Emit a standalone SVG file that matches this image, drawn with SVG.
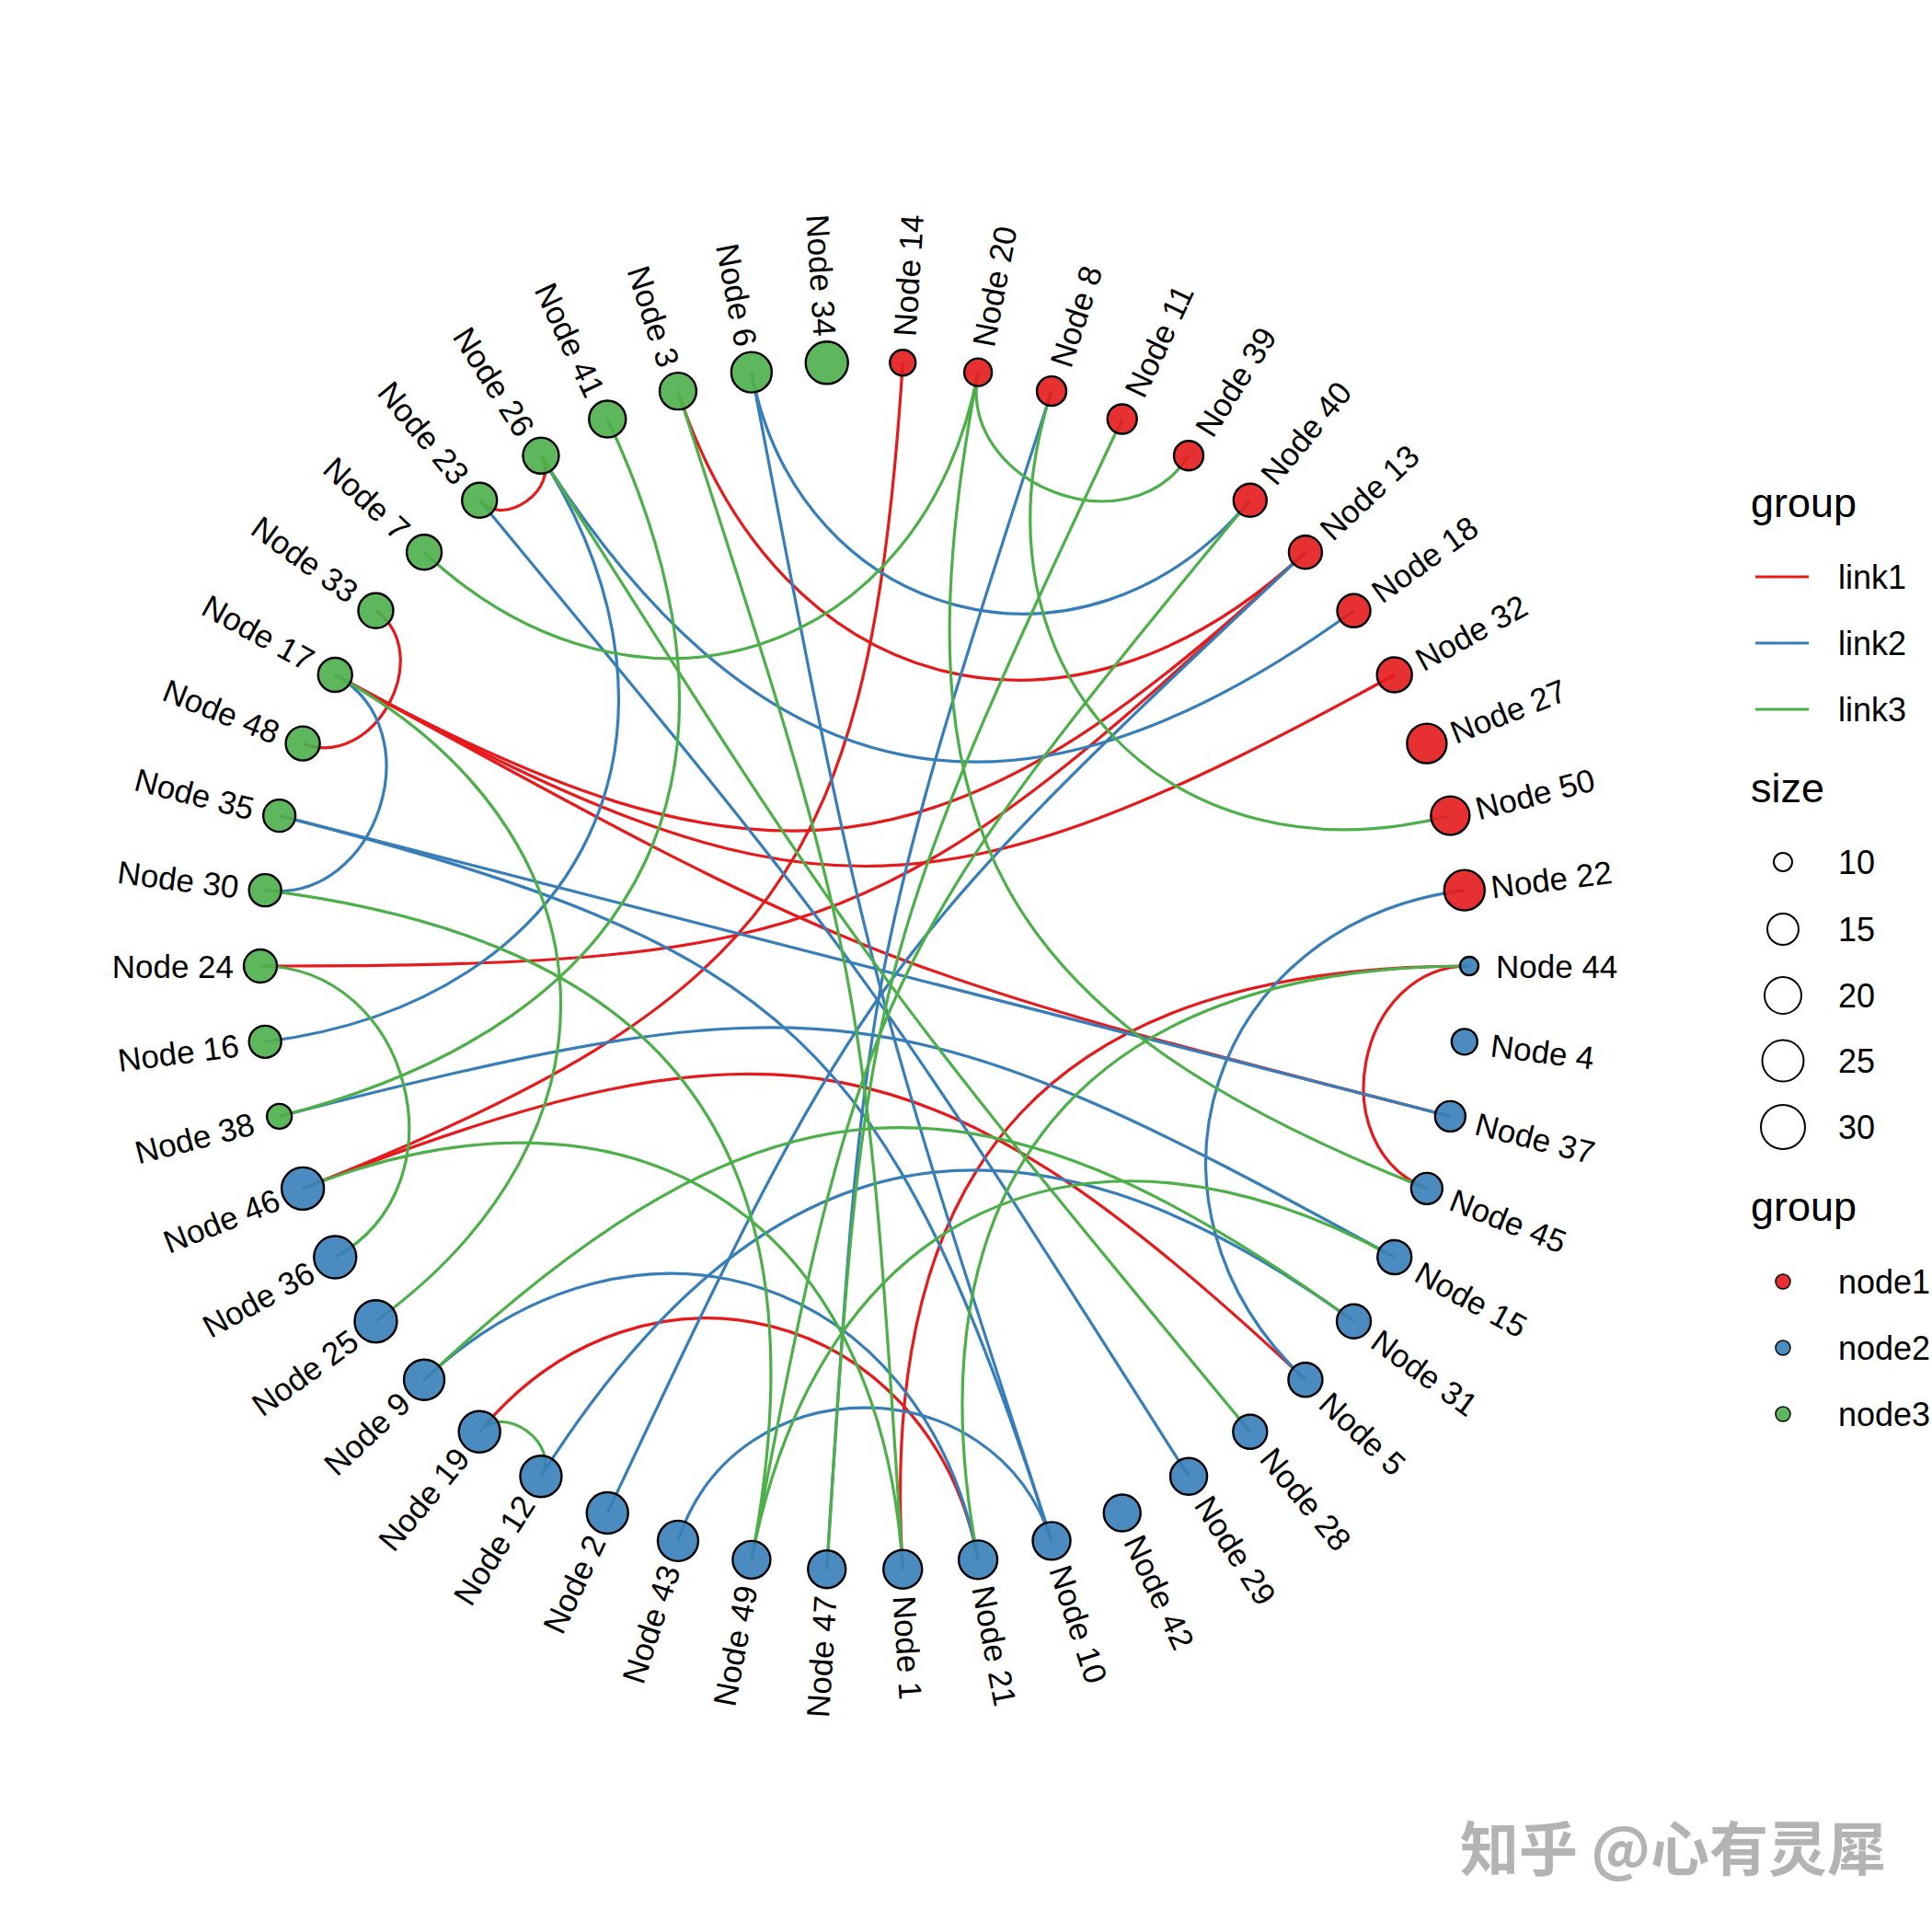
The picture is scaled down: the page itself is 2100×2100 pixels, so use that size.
<svg xmlns="http://www.w3.org/2000/svg" width="2100" height="2100" viewBox="0 0 2100 2100">
<style>
.edge{fill:none;stroke-width:3.2}
.l1{stroke:#E41A1C}.l2{stroke:#377EB8}.l3{stroke:#4DAF4A}
.node circle{stroke:#000;stroke-width:2.4;fill-opacity:0.9}
.g1 circle{fill:#E41A1C}.g2 circle{fill:#377EB8}.g3 circle{fill:#4DAF4A}
.node text{font-family:"Liberation Sans",Arial,sans-serif;font-size:35px;fill:#000;dominant-baseline:central}
.s{text-anchor:start}.e{text-anchor:end}
.lg{font-family:"Liberation Sans",Arial,sans-serif;fill:#000}
.lt{font-size:45px}.ll{font-size:36px;dominant-baseline:central}
</style>
<rect width="2100" height="2100" fill="#fff"/>
<g id="edges">
<path class="edge l1" d="M981.25,394.29 C946.42,947.92 844.91,1087.65 329.13,1291.86"/>
<path class="edge l1" d="M329.13,1291.86 C844.91,1087.65 1014.55,1120.01 1418.93,1499.75"/>
<path class="edge l1" d="M521.21,543.78 C547.51,575.57 610.06,530.11 587.96,495.28"/>
<path class="edge l1" d="M408.47,663.82 C475.09,712.22 405.69,838.45 329.13,808.14"/>
<path class="edge l1" d="M1597,1050 C1473.89,1050 1436.41,1246.54 1550.87,1291.86"/>
<path class="edge l1" d="M1597,1050 C1147.25,1050 953.01,1256.84 981.25,1705.71"/>
<path class="edge l1" d="M521.21,1556.22 C699.52,1340.68 1010.69,1420.58 1063.11,1695.36"/>
<path class="edge l1" d="M736.97,425.15 C845.76,759.96 1162.3,841.24 1418.93,600.25"/>
<path class="edge l1" d="M364.26,733.49 C830.05,989.55 1031.47,964.11 1418.93,600.25"/>
<path class="edge l1" d="M364.26,733.49 C868.79,1010.85 1011.21,1010.85 1515.74,733.49"/>
<path class="edge l1" d="M364.26,733.49 C935.46,1047.5 945.02,1051.29 1576.36,1213.39"/>
<path class="edge l1" d="M283,1050 C893.87,1050 973.63,1018.42 1418.93,600.25"/>
<path class="edge l2" d="M816.89,404.64 C869.31,679.42 1180.48,759.32 1358.79,543.78"/>
<path class="edge l2" d="M816.89,404.64 C939.76,1048.73 940.4,1051.23 1143.03,1674.85"/>
<path class="edge l2" d="M587.96,495.28 C776.59,792.52 637.45,1088.22 288.18,1132.34"/>
<path class="edge l2" d="M587.96,495.28 C828.95,875.01 1107.67,928.18 1471.53,663.82"/>
<path class="edge l2" d="M364.26,733.49 C472.14,792.8 410.32,983.09 288.18,967.66"/>
<path class="edge l2" d="M303.64,886.61 C940,1050 940,1050 1576.36,1213.39"/>
<path class="edge l2" d="M303.64,886.61 C861.29,1029.79 965.11,1127.29 1143.03,1674.85"/>
<path class="edge l2" d="M303.64,1213.39 C895.31,1061.47 980.43,1072.23 1515.74,1366.51"/>
<path class="edge l2" d="M1591.82,967.66 C1314.29,1002.72 1215.01,1308.26 1418.93,1499.75"/>
<path class="edge l2" d="M736.97,1674.85 C799.71,1481.76 1080.29,1481.76 1143.03,1674.85"/>
<path class="edge l2" d="M461.07,1499.75 C691.79,1283.08 1003.8,1384.46 1063.11,1695.36"/>
<path class="edge l2" d="M521.21,543.78 C939.17,1049 940.69,1051.09 1292.04,1604.72"/>
<path class="edge l2" d="M660.26,1644.47 C935.05,1060.53 948.48,1042.03 1418.93,600.25"/>
<path class="edge l2" d="M587.96,1604.72 C828.95,1224.99 1107.67,1171.82 1471.53,1436.18"/>
<path class="edge l2" d="M1143.03,425.15 C941.6,1045.07 939.67,1055.17 898.75,1705.71"/>
<path class="edge l3" d="M1063.11,404.64 C1003.8,715.54 691.79,816.92 461.07,600.25"/>
<path class="edge l3" d="M1063.11,404.64 C1040.04,525.57 1226.08,599.22 1292.04,495.28"/>
<path class="edge l3" d="M1063.11,404.64 C968.25,901.9 1080.19,1105.5 1550.87,1291.86"/>
<path class="edge l3" d="M1143.03,425.15 C1045.22,726.17 1269.79,965.32 1576.36,886.61"/>
<path class="edge l3" d="M283,1050 C446.39,1050 507.44,1287.8 364.26,1366.51"/>
<path class="edge l3" d="M303.64,1213.39 C709.27,1109.24 838.57,834.46 660.26,455.53"/>
<path class="edge l3" d="M364.26,733.49 C672.76,903.09 693.28,1229.25 408.47,1436.18"/>
<path class="edge l3" d="M587.96,1604.72 C610.06,1569.89 547.51,1524.43 521.21,1556.22"/>
<path class="edge l3" d="M1063.11,1695.36 C984.64,1284 1178.21,1050 1597,1050"/>
<path class="edge l3" d="M736.97,425.15 C938.4,1045.07 940.33,1055.17 981.25,1705.71"/>
<path class="edge l3" d="M329.13,1291.86 C688.19,1149.7 957,1320.29 981.25,1705.71"/>
<path class="edge l3" d="M1219.74,455.53 C944.95,1039.47 939.27,1061.61 898.75,1705.71"/>
<path class="edge l3" d="M1358.79,543.78 C953.16,1034.09 936.13,1070.28 816.89,1695.36"/>
<path class="edge l3" d="M587.96,495.28 C939.31,1048.91 940.83,1051 1358.79,1556.22"/>
<path class="edge l3" d="M816.89,1695.36 C889.25,1316.02 1177.33,1180.47 1515.74,1366.51"/>
<path class="edge l3" d="M288.18,967.66 C734.38,1024.03 901.17,1253.58 816.89,1695.36"/>
<path class="edge l3" d="M461.07,1499.75 C830.09,1153.21 1061.98,1138.62 1471.53,1436.18"/>
</g>
<g id="nodes">
<g id="node14" class="node g1"><circle cx="981.25" cy="394.29" r="14"/><text class="s" transform="translate(983.07,365.35) rotate(-86.4)">Node 14</text></g>
<g id="node20" class="node g1"><circle cx="1063.11" cy="404.64" r="15"/><text class="s" transform="translate(1068.54,376.15) rotate(-79.2)">Node 20</text></g>
<g id="node8" class="node g1"><circle cx="1143.03" cy="425.15" r="16"/><text class="s" transform="translate(1151.99,397.57) rotate(-72)">Node 8</text></g>
<g id="node11" class="node g1"><circle cx="1219.74" cy="455.53" r="16"/><text class="s" transform="translate(1232.09,429.29) rotate(-64.8)">Node 11</text></g>
<g id="node39" class="node g1"><circle cx="1292.04" cy="495.28" r="16"/><text class="s" transform="translate(1307.58,470.79) rotate(-57.6)">Node 39</text></g>
<g id="node40" class="node g1"><circle cx="1358.79" cy="543.78" r="18"/><text class="s" transform="translate(1377.28,521.44) rotate(-50.4)">Node 40</text></g>
<g id="node13" class="node g1"><circle cx="1418.93" cy="600.25" r="18"/><text class="s" transform="translate(1440.07,580.4) rotate(-43.2)">Node 13</text></g>
<g id="node18" class="node g1"><circle cx="1471.53" cy="663.82" r="18"/><text class="s" transform="translate(1495,646.77) rotate(-36)">Node 18</text></g>
<g id="node32" class="node g1"><circle cx="1515.74" cy="733.49" r="19"/><text class="s" transform="translate(1541.15,719.52) rotate(-28.8)">Node 32</text></g>
<g id="node27" class="node g1"><circle cx="1550.87" cy="808.14" r="21.5"/><text class="s" transform="translate(1577.83,797.46) rotate(-21.6)">Node 27</text></g>
<g id="node50" class="node g1"><circle cx="1576.36" cy="886.61" r="21"/><text class="s" transform="translate(1604.45,879.4) rotate(-14.4)">Node 50</text></g>
<g id="node22" class="node g1"><circle cx="1591.82" cy="967.66" r="22"/><text class="s" transform="translate(1620.59,964.03) rotate(-7.2)">Node 22</text></g>
<g id="node44" class="node g2"><circle cx="1597" cy="1050" r="10"/><text class="s" transform="translate(1626,1050) rotate(0)">Node 44</text></g>
<g id="node4" class="node g2"><circle cx="1591.82" cy="1132.34" r="14"/><text class="s" transform="translate(1620.59,1135.97) rotate(7.2)">Node 4</text></g>
<g id="node37" class="node g2"><circle cx="1576.36" cy="1213.39" r="16.5"/><text class="s" transform="translate(1604.45,1220.6) rotate(14.4)">Node 37</text></g>
<g id="node45" class="node g2"><circle cx="1550.87" cy="1291.86" r="17"/><text class="s" transform="translate(1577.83,1302.54) rotate(21.6)">Node 45</text></g>
<g id="node15" class="node g2"><circle cx="1515.74" cy="1366.51" r="18.5"/><text class="s" transform="translate(1541.15,1380.48) rotate(28.8)">Node 15</text></g>
<g id="node31" class="node g2"><circle cx="1471.53" cy="1436.18" r="18.5"/><text class="s" transform="translate(1495,1453.23) rotate(36)">Node 31</text></g>
<g id="node5" class="node g2"><circle cx="1418.93" cy="1499.75" r="18.5"/><text class="s" transform="translate(1440.07,1519.6) rotate(43.2)">Node 5</text></g>
<g id="node28" class="node g2"><circle cx="1358.79" cy="1556.22" r="18.5"/><text class="s" transform="translate(1377.28,1578.56) rotate(50.4)">Node 28</text></g>
<g id="node29" class="node g2"><circle cx="1292.04" cy="1604.72" r="20"/><text class="s" transform="translate(1307.58,1629.21) rotate(57.6)">Node 29</text></g>
<g id="node42" class="node g2"><circle cx="1219.74" cy="1644.47" r="20"/><text class="s" transform="translate(1232.09,1670.71) rotate(64.8)">Node 42</text></g>
<g id="node10" class="node g2"><circle cx="1143.03" cy="1674.85" r="20.5"/><text class="s" transform="translate(1151.99,1702.43) rotate(72)">Node 10</text></g>
<g id="node21" class="node g2"><circle cx="1063.11" cy="1695.36" r="21"/><text class="s" transform="translate(1068.54,1723.85) rotate(79.2)">Node 21</text></g>
<g id="node1" class="node g2"><circle cx="981.25" cy="1705.71" r="21"/><text class="s" transform="translate(983.07,1734.65) rotate(86.4)">Node 1</text></g>
<g id="node47" class="node g2"><circle cx="898.75" cy="1705.71" r="20.5"/><text class="e" transform="translate(896.93,1734.65) rotate(-86.4)">Node 47</text></g>
<g id="node49" class="node g2"><circle cx="816.89" cy="1695.36" r="20.5"/><text class="e" transform="translate(811.46,1723.85) rotate(-79.2)">Node 49</text></g>
<g id="node43" class="node g2"><circle cx="736.97" cy="1674.85" r="22"/><text class="e" transform="translate(728.01,1702.43) rotate(-72)">Node 43</text></g>
<g id="node2" class="node g2"><circle cx="660.26" cy="1644.47" r="22.5"/><text class="e" transform="translate(647.91,1670.71) rotate(-64.8)">Node 2</text></g>
<g id="node12" class="node g2"><circle cx="587.96" cy="1604.72" r="22.5"/><text class="e" transform="translate(572.42,1629.21) rotate(-57.6)">Node 12</text></g>
<g id="node19" class="node g2"><circle cx="521.21" cy="1556.22" r="22.5"/><text class="e" transform="translate(502.72,1578.56) rotate(-50.4)">Node 19</text></g>
<g id="node9" class="node g2"><circle cx="461.07" cy="1499.75" r="22"/><text class="e" transform="translate(439.93,1519.6) rotate(-43.2)">Node 9</text></g>
<g id="node25" class="node g2"><circle cx="408.47" cy="1436.18" r="23"/><text class="e" transform="translate(385,1453.23) rotate(-36)">Node 25</text></g>
<g id="node36" class="node g2"><circle cx="364.26" cy="1366.51" r="23"/><text class="e" transform="translate(338.85,1380.48) rotate(-28.8)">Node 36</text></g>
<g id="node46" class="node g2"><circle cx="329.13" cy="1291.86" r="23"/><text class="e" transform="translate(302.17,1302.54) rotate(-21.6)">Node 46</text></g>
<g id="node38" class="node g3"><circle cx="303.64" cy="1213.39" r="13.5"/><text class="e" transform="translate(275.55,1220.6) rotate(-14.4)">Node 38</text></g>
<g id="node16" class="node g3"><circle cx="288.18" cy="1132.34" r="17.5"/><text class="e" transform="translate(259.41,1135.97) rotate(-7.2)">Node 16</text></g>
<g id="node24" class="node g3"><circle cx="283" cy="1050" r="18"/><text class="e" transform="translate(254,1050) rotate(0)">Node 24</text></g>
<g id="node30" class="node g3"><circle cx="288.18" cy="967.66" r="17.5"/><text class="e" transform="translate(259.41,964.03) rotate(7.2)">Node 30</text></g>
<g id="node35" class="node g3"><circle cx="303.64" cy="886.61" r="17.5"/><text class="e" transform="translate(275.55,879.4) rotate(14.4)">Node 35</text></g>
<g id="node48" class="node g3"><circle cx="329.13" cy="808.14" r="18.5"/><text class="e" transform="translate(302.17,797.46) rotate(21.6)">Node 48</text></g>
<g id="node17" class="node g3"><circle cx="364.26" cy="733.49" r="18.5"/><text class="e" transform="translate(338.85,719.52) rotate(28.8)">Node 17</text></g>
<g id="node33" class="node g3"><circle cx="408.47" cy="663.82" r="19"/><text class="e" transform="translate(385,646.77) rotate(36)">Node 33</text></g>
<g id="node7" class="node g3"><circle cx="461.07" cy="600.25" r="19"/><text class="e" transform="translate(439.93,580.4) rotate(43.2)">Node 7</text></g>
<g id="node23" class="node g3"><circle cx="521.21" cy="543.78" r="19"/><text class="e" transform="translate(502.72,521.44) rotate(50.4)">Node 23</text></g>
<g id="node26" class="node g3"><circle cx="587.96" cy="495.28" r="19.5"/><text class="e" transform="translate(572.42,470.79) rotate(57.6)">Node 26</text></g>
<g id="node41" class="node g3"><circle cx="660.26" cy="455.53" r="20"/><text class="e" transform="translate(647.91,429.29) rotate(64.8)">Node 41</text></g>
<g id="node3" class="node g3"><circle cx="736.97" cy="425.15" r="20"/><text class="e" transform="translate(728.01,397.57) rotate(72)">Node 3</text></g>
<g id="node6" class="node g3"><circle cx="816.89" cy="404.64" r="22"/><text class="e" transform="translate(811.46,376.15) rotate(79.2)">Node 6</text></g>
<g id="node34" class="node g3"><circle cx="898.75" cy="394.29" r="23"/><text class="e" transform="translate(896.93,365.35) rotate(86.4)">Node 34</text></g>
</g>
<g id="legend" class="lg">
<text class="lt" x="1903" y="562">group</text>
<line x1="1908" y1="627" x2="1966" y2="627" class="edge l1"/>
<line x1="1908" y1="699" x2="1966" y2="699" class="edge l2"/>
<line x1="1908" y1="771" x2="1966" y2="771" class="edge l3"/>
<text class="ll" x="1998" y="627">link1</text>
<text class="ll" x="1998" y="699">link2</text>
<text class="ll" x="1998" y="771">link3</text>
<text class="lt" x="1903" y="872">size</text>
<g fill="none" stroke="#000" stroke-width="2">
<circle cx="1938" cy="937" r="10"/>
<circle cx="1938" cy="1010" r="17"/>
<circle cx="1938" cy="1082" r="20"/>
<circle cx="1938" cy="1153" r="22.5"/>
<circle cx="1938" cy="1225" r="24"/>
</g>
<text class="ll" x="1998" y="937">10</text>
<text class="ll" x="1998" y="1010">15</text>
<text class="ll" x="1998" y="1082">20</text>
<text class="ll" x="1998" y="1153">25</text>
<text class="ll" x="1998" y="1225">30</text>
<text class="lt" x="1903" y="1327">group</text>
<g stroke="#000" stroke-width="1.5" fill-opacity="0.9">
<circle cx="1938" cy="1393" r="8" fill="#E41A1C"/>
<circle cx="1938" cy="1465" r="8" fill="#377EB8"/>
<circle cx="1938" cy="1537" r="8" fill="#4DAF4A"/>
</g>
<text class="ll" x="1998" y="1393">node1</text>
<text class="ll" x="1998" y="1465">node2</text>
<text class="ll" x="1998" y="1537">node3</text>
</g>
<text x="1587" y="2033" font-family="'Noto Sans CJK SC',sans-serif" font-size="64" font-weight="bold" fill="#b3b3b3">知乎 @心有灵犀</text>
</svg>
